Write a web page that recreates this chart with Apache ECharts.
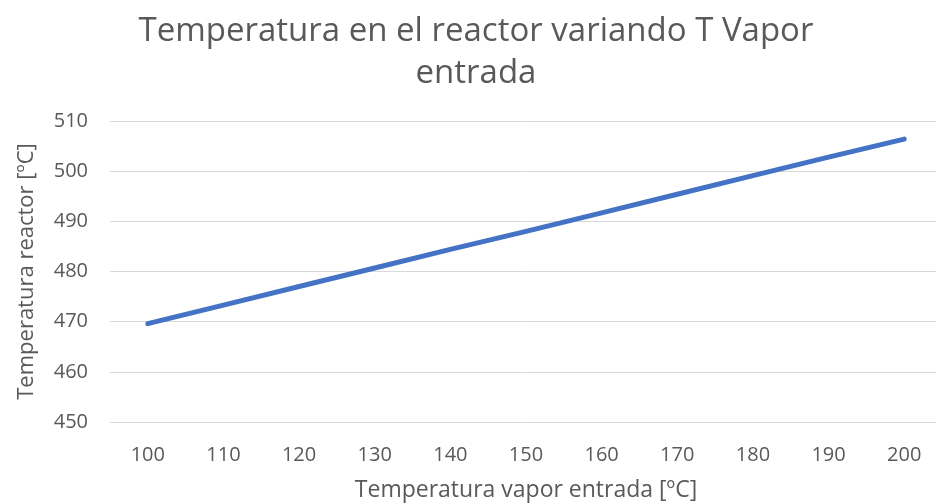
<!DOCTYPE html>
<html>
<head>
<meta charset="utf-8">
<script src="https://cdn.jsdelivr.net/npm/echarts@6/dist/echarts.min.js"></script>
<style>
  html, body { margin: 0; padding: 0; background: #ffffff; }
  #chart { width: 936px; height: 504px; }
</style>
</head>
<body>
<div id="chart"></div>
<script>
// Steam inlet temperature [ºC] (x categories)
const vaporTemps = ['100', '110', '120', '130', '140', '150', '160', '170', '180', '190', '200'];
// Reactor temperature [ºC] for each inlet temperature
const reactorTemps = [469.6, 473.3, 477.0, 480.7, 484.4, 488.0, 491.7, 495.4, 499.1, 502.8, 506.4];
// Value-axis range and step
const yMin = 450, yMax = 510, yStep = 10;

const textColor = '#595959';
const fontFamily = '"Open Sans", "Liberation Sans", sans-serif';

const chart = echarts.init(document.getElementById('chart'), null, { renderer: 'canvas' });
chart.setOption({
  backgroundColor: '#ffffff',
  animation: false,
  title: {
    text: 'Temperatura en el reactor variando T Vapor\nentrada',
    left: 471,
    textAlign: 'center',
    top: 6,
    textStyle: {
      color: textColor,
      fontFamily: fontFamily,
      fontSize: 33,
      fontWeight: 'normal',
      lineHeight: 42
    }
  },
  grid: { left: 110, top: 121, width: 832, height: 301, outerBoundsMode: 'none', containLabel: false },
  xAxis: {
    type: 'category',
    data: vaporTemps,
    boundaryGap: true,
    name: 'Temperatura vapor entrada [ºC]',
    nameLocation: 'middle',
    nameGap: 57,
    nameTextStyle: { color: textColor, fontFamily: fontFamily, fontSize: 23 },
    axisLine: { show: false },
    axisTick: { show: false },
    axisLabel: { color: textColor, fontFamily: fontFamily, fontSize: 20, margin: 23 },
    splitLine: { show: false }
  },
  yAxis: {
    type: 'value',
    min: yMin,
    max: yMax,
    interval: yStep,
    name: 'Temperatura reactor [ºC]',
    nameLocation: 'middle',
    nameGap: 72,
    nameRotate: 90,
    nameTextStyle: { color: textColor, fontFamily: fontFamily, fontSize: 22 },
    axisLine: { show: false },
    axisTick: { show: false },
    axisLabel: { color: textColor, fontFamily: fontFamily, fontSize: 20, margin: 22 },
    splitLine: { lineStyle: { color: '#d9d9d9', width: 1 } }
  },
  series: [{
    type: 'line',
    data: reactorTemps,
    showSymbol: false,
    symbol: 'none',
    lineStyle: { color: '#4472C4', width: 5, cap: 'round' },
    itemStyle: { color: '#4472C4' }
  }]
});
</script>
</body>
</html>
